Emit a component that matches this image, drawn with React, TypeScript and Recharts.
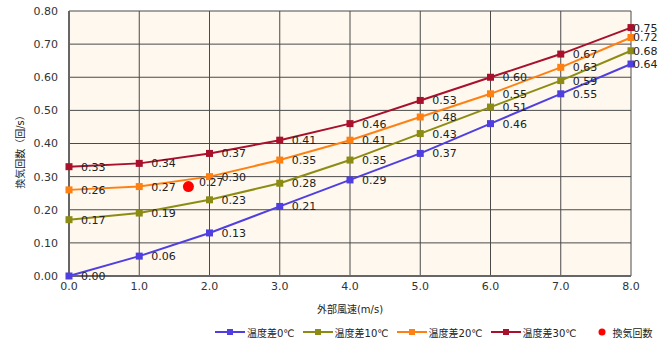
import {
  CartesianGrid,
  ComposedChart,
  Legend,
  Line,
  Scatter,
  XAxis,
  YAxis,
} from "recharts";

const windSpeed = [0, 1, 2, 3, 4, 5, 6, 7, 8];
const diff0 = [0.0, 0.06, 0.13, 0.21, 0.29, 0.37, 0.46, 0.55, 0.64];
const diff10 = [0.17, 0.19, 0.23, 0.28, 0.35, 0.43, 0.51, 0.59, 0.68];
const diff20 = [0.26, 0.27, 0.3, 0.35, 0.41, 0.48, 0.55, 0.63, 0.72];
const diff30 = [0.33, 0.34, 0.37, 0.41, 0.46, 0.53, 0.6, 0.67, 0.75];
const measured = [{ x: 1.7, rate: 0.27 }];

const xTicks = [0, 1, 2, 3, 4, 5, 6, 7, 8];
const yTicks = [0, 0.1, 0.2, 0.3, 0.4, 0.5, 0.6, 0.7, 0.8];

const series = [
  { key: "d0", name: "温度差0℃", color: "#4f3fe0", values: diff0 },
  { key: "d10", name: "温度差10℃", color: "#8c8c14", values: diff10 },
  { key: "d20", name: "温度差20℃", color: "#ff8012", values: diff20 },
  { key: "d30", name: "温度差30℃", color: "#a8102c", values: diff30 },
];

const data = windSpeed.map((x, i) => {
  const row: Record<string, number> = { x };
  series.forEach((s) => (row[s.key] = s.values[i]));
  return row;
});

const font = "'DejaVu Sans', 'Noto Sans CJK JP', sans-serif";

function PointLabel(props: any) {
  const { x, y, value, index } = props;
  const dx = index === windSpeed.length - 1 ? 2 : 12;
  return (
    <text
      x={x + dx}
      y={y}
      dy="0.36em"
      fontSize={11}
      fontFamily={font}
      fill="#222"
    >
      {Number(value).toFixed(2)}
    </text>
  );
}

function ChartLegend() {
  return (
    <div
      style={{
        display: "flex",
        alignItems: "center",
        paddingLeft: 215,
        height: 20,
        width: 666,
        boxSizing: "border-box",
        whiteSpace: "nowrap",
        fontFamily: font,
        fontSize: 10,
        color: "#222",
      }}
    >
      {series.map((s) => (
        <div
          key={s.key}
          style={{ display: "flex", alignItems: "center", marginRight: 8, flexShrink: 0 }}
        >
          <svg width={30} height={8} style={{ marginRight: 2 }}>
            <line x1={0} y1={4} x2={30} y2={4} stroke={s.color} strokeWidth={2} />
            <rect x={12} y={1} width={6} height={6} fill={s.color} />
          </svg>
          <span>{s.name}</span>
        </div>
      ))}
      <div style={{ display: "flex", alignItems: "center", marginLeft: 12, flexShrink: 0 }}>
        <svg width={10} height={8} style={{ marginRight: 6 }}>
          <circle cx={5} cy={4} r={3.5} fill="#ff0000" />
        </svg>
        <span>換気回数</span>
      </div>
    </div>
  );
}

export default function App() {
  return (
    <div style={{ position: "absolute", left: 0, top: 0, width: 666, height: 342, background: "#fff" }}>
      <ComposedChart
        width={666}
        height={342}
        data={data}
        margin={{ top: 11, right: 35, left: 0, bottom: 0 }}
      >
        <CartesianGrid fill="#fff8ee" stroke="#4a4a4a" strokeWidth={1} />
        <XAxis
          dataKey="x"
          type="number"
          domain={[0, 8]}
          ticks={xTicks}
          tickFormatter={(v) => Number(v).toFixed(1)}
          tickLine={false}
          tickSize={0}
          tickMargin={6}
          height={46}
          axisLine={{ stroke: "#666", strokeWidth: 2 }}
          tick={{ fontSize: 11, fontFamily: font, fill: "#333" }}
          label={{
            value: "外部風速(m/s)",
            position: "insideTop",
            offset: 30,
            fontSize: 10,
            fontFamily: font,
            fill: "#222",
          }}
        />
        <YAxis
          type="number"
          domain={[0, 0.8]}
          ticks={yTicks}
          tickFormatter={(v) => Number(v).toFixed(2)}
          tickLine={false}
          tickSize={0}
          tickMargin={11}
          width={69}
          axisLine={{ stroke: "#666", strokeWidth: 2 }}
          tick={{ fontSize: 11, fontFamily: font, fill: "#333" }}
          label={{
            value: "換気回数（回/s）",
            angle: -90,
            position: "center",
            dx: -14,
            dy: 6,
            fontSize: 10,
            fontFamily: font,
            fill: "#222",
          }}
        />
        <Legend
          verticalAlign="bottom"
          height={20}
          wrapperStyle={{ left: 0, width: 666 }}
          content={() => <ChartLegend />}
        />
        {series.map((s) => (
          <Line
            key={s.key}
            dataKey={s.key}
            name={s.name}
            stroke={s.color}
            strokeWidth={2}
            type="linear"
            isAnimationActive={false}
            dot={(p: any) => (
              <rect
                key={`${s.key}-${p.index}`}
                x={p.cx - 3.5}
                y={p.cy - 3.5}
                width={7}
                height={7}
                fill={s.color}
              />
            )}
            activeDot={false}
            label={PointLabel}
          />
        ))}
        <Scatter
          data={measured}
          dataKey="rate"
          name="換気回数"
          fill="#ff0000"
          isAnimationActive={false}
          shape={(p: any) => <circle cx={p.cx} cy={p.cy} r={5.5} fill="#ff0000" />}
          label={{
            dataKey: "rate",
            content: (p: any) => (
              <text x={p.x + 15} y={p.y} dy="0.36em" fontSize={11} fontFamily={font} fill="#222">
                {Number(p.value).toFixed(2)}
              </text>
            ),
          }}
        />
      </ComposedChart>
    </div>
  );
}
